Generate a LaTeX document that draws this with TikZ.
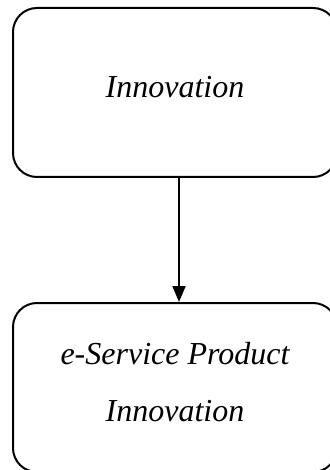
\documentclass[tikz,border=0pt]{standalone}
\usepackage{fontspec}
\setmainfont{Liberation Serif}
\usetikzlibrary{positioning,arrows.meta}

\tikzset{
  stagebox/.style={draw, line width=1pt, rounded corners=12pt,
    minimum width=162pt, minimum height=84.5pt, text depth=6pt,
    align=center, font=\fontsize{16}{28.5}\selectfont\itshape},
}

\begin{document}
\begin{tikzpicture}

  \useasboundingbox (0,0) rectangle (165pt,-235pt);

  % Define nodes
  \node[stagebox] (innov) at (87.5pt,-46.25pt) {Innovation};
  \node[stagebox, below=62pt of innov] (eprod) {e-Service Product\\Innovation};
  % Connect the nodes
  \draw[line width=1pt, -{Triangle[width=6.5pt,length=8pt]}]
    ([xshift=2pt]innov.south) -- ([xshift=2pt]eprod.north);

\end{tikzpicture}
\end{document}
